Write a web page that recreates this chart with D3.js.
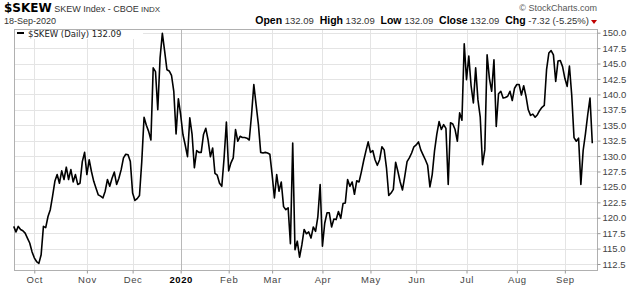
<!DOCTYPE html>
<html>
<head>
    <meta charset='utf-8'>
    <title>$SKEW daily</title>
    <style>
    body {
      margin: 0;
      background: #fff;
      font-family: 'Liberation Sans', Arial, sans-serif;
    }
    .axis text {
      font-family: 'Liberation Sans', Arial, sans-serif;
    }
    </style>
    <script src='https://d3js.org/d3.v7.min.js'></script>
</head>
<body>
<div id="container"></div>
<script>
// ******* Data *******
const skewValues = [
  118.6, 117.7, 118.6, 118.1, 117.9, 117.5, 116.7, 115.9, 114.5, 113.5,
  112.9, 112.6, 114.0, 118.6, 118.4, 120.2, 121.3, 123.5, 125.9, 127.0,
  125.6, 127.6, 126.2, 128.2, 126.2, 127.8, 125.8, 127.0, 125.4, 125.6,
  129.1, 130.6, 127.0, 129.4, 127.5, 125.9, 124.8, 123.7, 123.5, 123.2,
  124.3, 126.2, 125.1, 126.4, 127.4, 125.4, 126.4, 127.8, 129.7, 130.3,
  130.2, 129.1, 124.0, 122.8, 123.1, 123.6, 129.1, 136.3, 135.0, 134.0,
  132.6, 144.3, 143.7, 137.5, 145.9, 149.9, 147.0, 144.0, 143.8, 143.1,
  140.5, 133.6, 139.3, 136.7, 133.5, 131.8, 129.9, 136.2, 133.5, 128.1,
  130.9, 130.6, 130.6, 133.5, 134.5, 132.6, 129.9, 131.3, 127.2, 126.9,
  125.6, 125.1, 129.7, 135.5, 127.6, 128.9, 129.7, 134.3, 132.4, 133.2,
  133.0, 133.0, 132.9, 132.6, 136.7, 141.6, 138.3, 135.1, 130.6, 130.5,
  130.6, 130.5, 130.3, 127.0, 123.2, 127.0, 124.3, 125.8, 121.8, 121.3,
  121.6, 115.8, 132.1, 114.8, 116.2, 113.6, 115.6, 118.1, 117.4, 117.7,
  116.7, 118.5, 117.8, 120.2, 125.4, 115.4, 119.1, 120.8, 120.8, 118.5,
  119.8, 119.7, 121.0, 119.9, 122.3, 122.4, 126.2, 125.1, 125.8, 123.8,
  126.0, 125.8, 127.4, 129.2, 130.8, 132.3, 130.6, 130.9, 129.4, 128.5,
  129.4, 131.5, 131.0, 128.1, 123.6, 124.0, 124.6, 129.0, 127.5, 125.8,
  124.5, 126.7, 129.1, 129.7, 130.5, 131.5, 131.8, 132.3, 131.0, 130.2,
  129.4, 128.5, 125.0, 127.0, 130.8, 133.5, 135.6, 134.3, 135.1, 134.5,
  125.4, 135.4, 135.2, 134.3, 132.4, 137.0, 135.8, 148.2, 142.4, 146.2,
  141.4, 138.6, 144.3, 139.1, 136.3, 128.6, 131.0, 146.4, 142.6, 140.5,
  145.6, 134.8, 140.1, 140.5, 139.4, 139.5, 139.7, 140.5, 139.0, 141.0,
  141.6, 141.6, 139.9, 141.4, 139.7, 137.5, 136.6, 136.8, 136.3, 136.7,
  137.4, 137.9, 138.2, 144.0, 146.7, 147.1, 146.4, 142.1, 145.4, 145.5,
  144.5, 142.6, 141.3, 144.6, 139.9, 133.0, 132.4, 132.9, 125.4, 130.9,
  133.6, 136.7, 139.41, 132.09
];

// market holidays inside the window (no trading, no point)
const holidays = ["2019-11-28", "2019-12-25", "2020-01-01", "2020-01-20",
                  "2020-02-17", "2020-04-10", "2020-05-25", "2020-07-03",
                  "2020-09-07"];

const monthLabels = ["Oct", "Nov", "Dec", "2020", "Feb", "Mar", "Apr",
                     "May", "Jun", "Jul", "Aug", "Sep"];
const yTicks = [112.5, 115, 117.5, 120, 122.5, 125, 127.5, 130, 132.5,
                135, 137.5, 140, 142.5, 145, 147.5, 150];

const quoteLabels = ["Open", "High", "Low", "Close", "Chg"];
const quoteValues = ["132.09", "132.09", "132.09", "132.09", "-7.32 (-5.25%)"];

// ******* Constants *******
const width = 640,
      height = 285,
      plotLeft = 14,
      plotRight = 597,
      plotTop = 29,
      plotBottom = 270;

// trading days: weekdays minus holidays
const fmt = d3.utcFormat("%Y-%m-%d");
const days = d3.utcDay.range(new Date(Date.UTC(2019, 8, 18)), new Date(Date.UTC(2020, 8, 19)))
    .filter(function(d) { return d.getUTCDay() % 6 !== 0 && holidays.indexOf(fmt(d)) < 0; })
    .map(fmt);

const series = days.map(function(d, i) { return {day: d, v: skewValues[i]}; });

// first trading day of each month gets a tick
const monthStarts = days.filter(function(d, i) {
    return i > 0 && d.slice(5, 7) !== days[i - 1].slice(5, 7);
});

// ******* Scales *******
var x = d3.scalePoint()
    .domain(days)
    .range([13.7, 592.3]);
var y = d3.scaleLinear()
    .domain([112.5, 150])
    .range([264, 32.7]);

// ******* SVG *******
var svg = d3.select("#container").append("svg")
    .attr("width", width)
    .attr("height", height)
    .style("display", "block");

// ******* Header *******
var title = svg.append("text")
    .attr("x", 4)
    .attr("y", 12)
    .attr("fill", "#000");
title.append("tspan").text("$SKEW")
    .attr("font-family", "'DejaVu Sans', Verdana, sans-serif")
    .attr("font-weight", "bold")
    .attr("font-size", 12);
title.append("tspan").text(" SKEW Index - CBOE")
    .attr("font-size", 9)
    .attr("fill", "#333");
title.append("tspan").text("  INDX")
    .attr("font-size", 8)
    .attr("fill", "#333");

svg.append("text")
    .attr("x", 4)
    .attr("y", 24)
    .attr("font-size", 9)
    .attr("fill", "#333")
    .text("18-Sep-2020");

svg.append("text")
    .attr("x", plotRight)
    .attr("y", 11)
    .attr("text-anchor", "end")
    .attr("font-size", 9)
    .attr("fill", "#555")
    .text("\u00a9 StockCharts.com");

var quote = svg.append("text")
    .attr("x", 589)
    .attr("y", 24)
    .attr("text-anchor", "end")
    .attr("fill", "#000");
quoteLabels.forEach(function(lab, i) {
    quote.append("tspan").text((i > 0 ? "  " : "") + lab)
        .attr("font-weight", "bold")
        .attr("font-size", 10.5)
        .attr("xml:space", "preserve");
    quote.append("tspan").text(" " + quoteValues[i])
        .attr("font-size", 9.5)
        .attr("fill", "#333");
});
// red down arrow next to the change
svg.append("path")
    .attr("d", "M591,20 L597,20 L594,24 Z")
    .attr("fill", "#c00000");

// ******* Grid *******
svg.append("g").selectAll("line")
    .data(yTicks)
    .enter().append("line")
    .attr("x1", plotLeft).attr("x2", plotRight)
    .attr("y1", function(d) { return Math.round(y(d)) + 0.5; })
    .attr("y2", function(d) { return Math.round(y(d)) + 0.5; })
    .attr("stroke", "#e4e4e4");

svg.append("g").selectAll("line")
    .data(monthStarts)
    .enter().append("line")
    .attr("x1", function(d) { return Math.round(x(d)) + 0.5; })
    .attr("x2", function(d) { return Math.round(x(d)) + 0.5; })
    .attr("y1", plotTop).attr("y2", plotBottom)
    .attr("stroke", function(d) { return d.slice(5, 7) === "01" ? "#b8b8b8" : "#e4e4e4"; });

// frame
svg.append("rect")
    .attr("x", plotLeft + 0.5).attr("y", plotTop + 0.5)
    .attr("width", plotRight - plotLeft).attr("height", plotBottom - plotTop)
    .attr("fill", "none")
    .attr("stroke", "#b0b0b0");

// ******* Line *******
svg.append("path")
    .datum(series)
    .attr("fill", "none")
    .attr("stroke", "#000")
    .attr("stroke-width", 1.6)
    .attr("stroke-linejoin", "round")
    .attr("d", d3.line()
        .x(function(d) { return x(d.day); })
        .y(function(d) { return y(d.v); }));

// ******* Legend *******
svg.append("rect")
    .attr("x", plotLeft + 1).attr("y", plotTop + 1)
    .attr("width", 128).attr("height", 9)
    .attr("fill", "#fff");
svg.append("line")
    .attr("x1", 17).attr("x2", 24)
    .attr("y1", 33).attr("y2", 33)
    .attr("stroke", "#000")
    .attr("stroke-width", 2);
svg.append("text")
    .attr("x", 28)
    .attr("y", 37)
    .attr("font-family", "'DejaVu Sans', Verdana, sans-serif")
    .attr("font-size", 8.5)
    .attr("fill", "#222")
    .text("$SKEW (Daily) " + d3.format(".2f")(skewValues[skewValues.length - 1]));

// ******* Axes *******
var yAxis = svg.append("g")
    .attr("class", "axis")
    .attr("transform", "translate(" + (plotRight + 0.5) + ",0)")
    .call(d3.axisRight(y).tickValues(yTicks).tickSize(3).tickPadding(2)
        .tickFormat(d3.format(".1f")));
yAxis.select(".domain").remove();
yAxis.selectAll("line").attr("stroke", "#999");
yAxis.selectAll("text").attr("font-size", 9.5).attr("fill", "#444");

var xAxis = svg.append("g")
    .attr("class", "axis")
    .attr("transform", "translate(0," + (plotBottom + 0.5) + ")")
    .call(d3.axisBottom(x).tickValues(monthStarts).tickSize(3).tickPadding(3)
        .tickFormat(function(d, i) { return monthLabels[i]; }));
xAxis.select(".domain").remove();
xAxis.selectAll("line").attr("stroke", "#999");
xAxis.selectAll("text")
    .attr("font-size", 9.5)
    .attr("letter-spacing", 0.6)
    .attr("font-weight", function(d, i) { return monthLabels[i] === "2020" ? "bold" : null; })
    .attr("fill", function(d, i) { return monthLabels[i] === "2020" ? "#000" : "#444"; });
</script>
</body>
</html>
